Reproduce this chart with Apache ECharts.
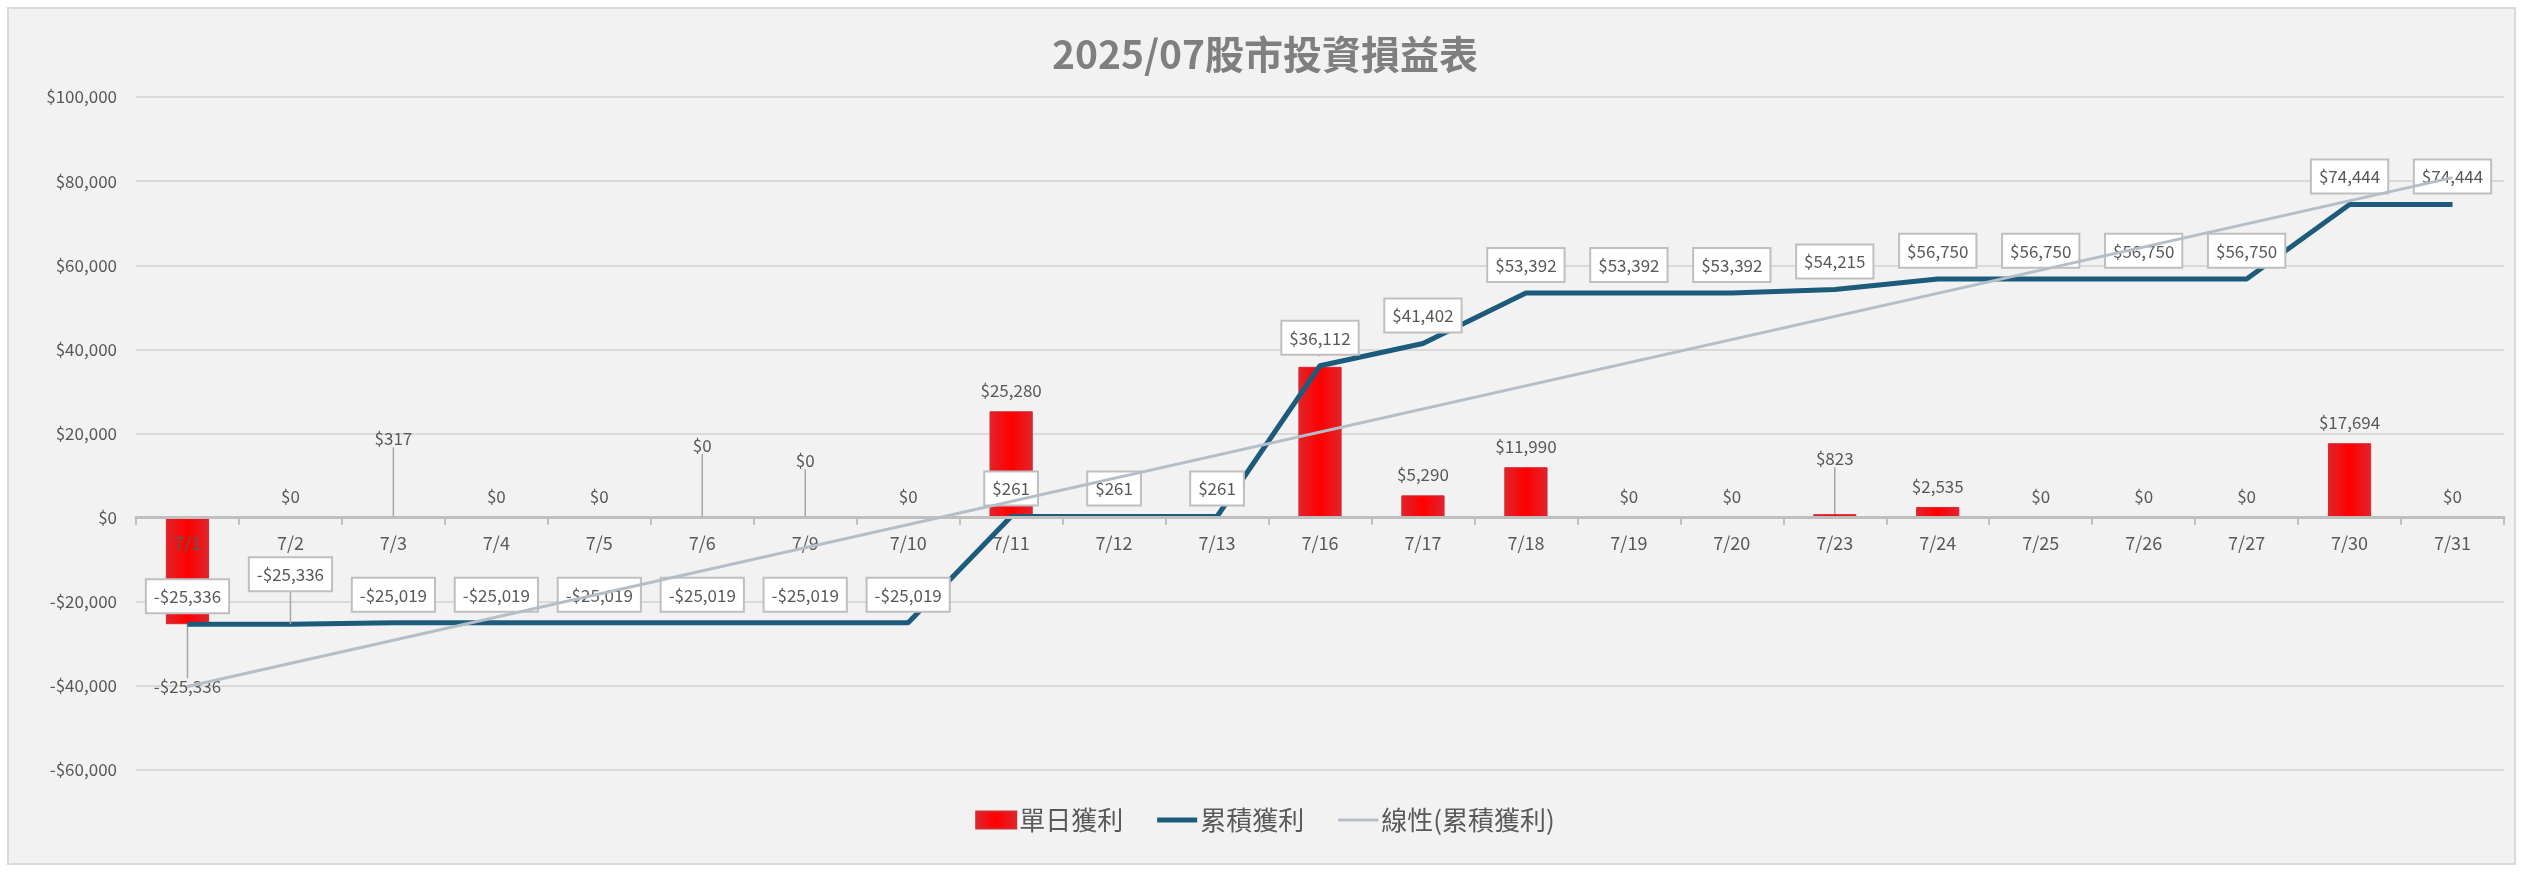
<!DOCTYPE html>
<html>
<head>
<meta charset="utf-8">
<script src="https://cdn.jsdelivr.net/npm/echarts@6/dist/echarts.min.js"></script>
<style>
  html, body { margin: 0; padding: 0; background: #ffffff; }
  #main { width: 2530px; height: 878px; }
</style>
</head>
<body>
<div id="main"></div>
<script>
// 日期 (交易日)
var days = ['7/1','7/2','7/3','7/4','7/5','7/6','7/9','7/10','7/11','7/12','7/13','7/16',
            '7/17','7/18','7/19','7/20','7/23','7/24','7/25','7/26','7/27','7/30','7/31'];
// 單日獲利
var daily = [-25336, 0, 317, 0, 0, 0, 0, 0, 25280, 0, 0, 35851,
             5290, 11990, 0, 0, 823, 2535, 0, 0, 0, 17694, 0];
// 累積獲利
var cumulative = [-25336, -25336, -25019, -25019, -25019, -25019, -25019, -25019, 261, 261, 261, 36112,
                  41402, 53392, 53392, 53392, 54215, 56750, 56750, 56750, 56750, 74444, 74444];
// 線性趨勢線 起點 / 終點
var trendEnds = [-40150, 80830];
// y 軸
var yMin = -60000, yMax = 100000, yStep = 20000;

var FONT = '"Microsoft JhengHei", "Noto Sans CJK TC", sans-serif';
var TXT = '#595959';

function money(v) {
    return (v < 0 ? '-' : '') + '$' + Math.abs(v).toLocaleString('en-US');
}

// labels that were dragged by hand in the original
var barLabelShift = { 0: 42, 2: -57, 5: -51, 6: -36, 16: -35 };
var lineLabelShift = { 1: -22 };
var guide = { show: true, lineStyle: { color: '#a6a6a6', width: 1.5 } };

var trendData = days.map(function (d, i) {
    if (i === 0) return trendEnds[0];
    if (i === days.length - 1) return trendEnds[1];
    return null;
});

var barData = daily.map(function (v, i) {
    var item = { value: v };
    if (v < 0) item.label = { position: 'bottom' };
    if (barLabelShift[i]) item.labelLine = guide;
    return item;
});

var lineData = cumulative.map(function (v, i) {
    var item = { value: v };
    if (lineLabelShift[i]) item.labelLine = guide;
    return item;
});

// grid geometry, used to put the category axis on the zero line
var gridTop = 97, gridBottom = 108, chartH = 878;
var plotH = chartH - gridTop - gridBottom;
var zeroOffset = -plotH * (0 - yMin) / (yMax - yMin);

var dom = document.getElementById('main');
var myChart = echarts.init(dom);
var option = {
    backgroundColor: '#ffffff',
    animation: false,
    textStyle: { fontFamily: FONT },
    graphic: {
        elements: [{
            type: 'rect',
            z: -100,
            silent: true,
            shape: { x: 8, y: 8, width: 2507, height: 856 },
            style: { fill: '#f2f2f2', stroke: '#d9d9d9', lineWidth: 2 }
        }]
    },
    title: {
        text: '2025/07股市投資損益表',
        left: 'center',
        top: 35,
        padding: 0,
        textStyle: { fontFamily: FONT, fontSize: 39, fontWeight: 'bold', color: '#7f7f7f' }
    },
    legend: {
        bottom: 40,
        left: 'center',
        itemGap: 34,
        itemWidth: 40,
        itemHeight: 17,
        textStyle: { fontFamily: FONT, fontSize: 26, color: TXT, padding: [0, 0, 0, -2] },
        data: [
            { name: '單日獲利', icon: 'rect' },
            { name: '累積獲利', icon: 'path://M0,0 H40 V5 H0 Z' },
            { name: '線性(累積獲利)', icon: 'path://M0,0 H40 V3 H0 Z' }
        ]
    },
    grid: { left: 136, right: 26, top: gridTop, bottom: gridBottom },
    xAxis: {
        type: 'category',
        data: days,
        position: 'bottom',
        offset: zeroOffset,
        z: 5,
        axisLine: { onZero: false, lineStyle: { color: '#bfbfbf', width: 3 } },
        axisTick: { show: true, length: 7, lineStyle: { color: '#bfbfbf', width: 2 } },
        axisLabel: { color: TXT, fontSize: 18, margin: 17, fontFamily: FONT }
    },
    yAxis: {
        type: 'value',
        min: yMin,
        max: yMax,
        interval: yStep,
        axisLine: { show: false },
        axisTick: { show: false },
        splitLine: { lineStyle: { color: '#d9d9d9', width: 2 } },
        axisLabel: { color: TXT, fontSize: 17, margin: 19, fontFamily: FONT, formatter: money }
    },
    series: [
        {
            name: '單日獲利',
            type: 'bar',
            barWidth: '42%',
            data: barData,
            itemStyle: {
                color: new echarts.graphic.LinearGradient(0, 0, 1, 0, [
                    { offset: 0, color: '#e0242b' },
                    { offset: 0.5, color: '#ff0000' },
                    { offset: 1, color: '#e0242b' }
                ]),
                borderColor: '#d32a30',
                borderWidth: 1
            },
            label: {
                show: true,
                position: 'top',
                distance: 12,
                color: TXT,
                fontSize: 17,
                fontFamily: FONT,
                formatter: function (p) { return money(p.value); }
            },
            labelLayout: function (p) {
                var s = barLabelShift[p.dataIndex];
                return s ? { dy: s } : {};
            }
        },
        {
            name: '累積獲利',
            type: 'line',
            data: lineData,
            symbol: 'circle',
            symbolSize: 0.1,
            showSymbol: true,
            lineStyle: { color: '#1c5b7b', width: 5 },
            itemStyle: { color: '#1c5b7b' },
            z: 3,
            label: {
                show: true,
                position: 'top',
                distance: 12,
                color: TXT,
                fontSize: 17,
                fontFamily: FONT,
                backgroundColor: '#ffffff',
                borderColor: '#bfbfbf',
                borderWidth: 2,
                padding: [8, 7, 7, 7],
                formatter: function (p) { return money(p.value); }
            },
            labelLayout: function (p) {
                var s = lineLabelShift[p.dataIndex];
                return s ? { dy: s } : {};
            }
        },
        {
            name: '線性(累積獲利)',
            type: 'line',
            data: trendData,
            connectNulls: true,
            symbol: 'none',
            z: 10,
            lineStyle: { color: '#b4bec8', width: 3 },
            itemStyle: { color: '#b4bec8' }
        }
    ]
};
myChart.setOption(option);
</script>
</body>
</html>
